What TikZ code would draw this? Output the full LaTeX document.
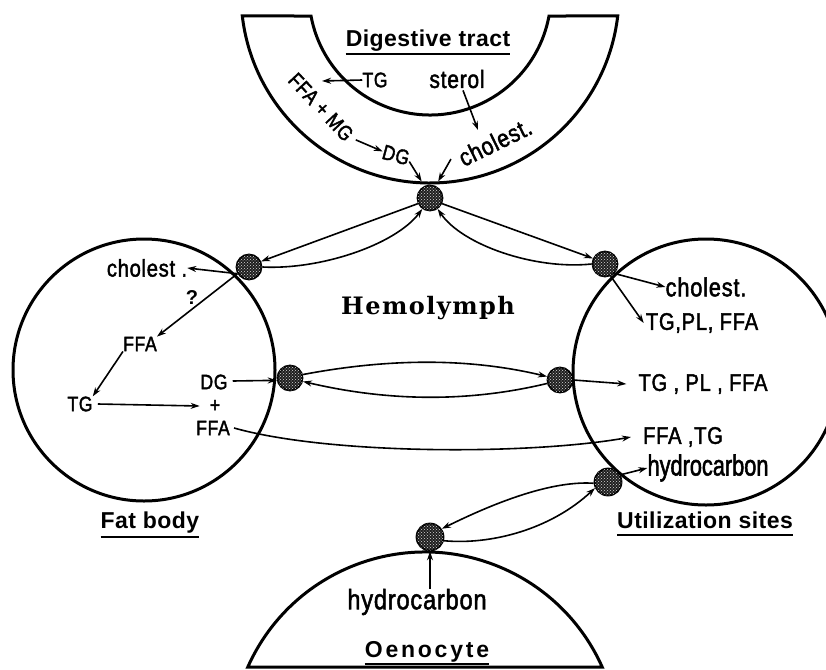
\documentclass[tikz,border=0pt]{standalone}
\usepackage{fontspec}
\usetikzlibrary{arrows.meta,patterns}
\newfontfamily\lbl{Liberation Sans}[FakeStretch=0.84,LetterSpace=3,FakeBold=1.8]
\newfontfamily\lblc{Liberation Sans}[FakeStretch=0.75,FakeBold=1.8]
\newfontfamily\blbl{Liberation Sans}[LetterSpace=2]
\newfontfamily\hemo{DejaVu Serif}[LetterSpace=6]
\begin{document}
\begin{tikzpicture}[x=1pt,y=1pt,
  outline/.style={line width=3pt},
  arr/.style={line width=1.6pt,-{Stealth[length=9pt,width=6pt]}},
  part/.style={circle,draw,line width=1.8pt,fill=black!88,minimum size=25pt,inner sep=0pt,
    postaction={pattern=crosshatch dots,pattern color=white!85!black}},
  t/.style={inner sep=0pt,font=\lbl\fontsize{21}{21}\selectfont},
  tl/.style={inner sep=0pt,font=\lbl\fontsize{24}{24}\selectfont},
  lab/.style={inner sep=0pt,anchor=base,font=\blbl\bfseries\fontsize{23}{23}\selectfont},
  uline/.style={line width=2.5pt}]
\useasboundingbox (0,0) rectangle (826,-669);
\clip (0,0) rectangle (826,-669);

% outlines
\draw[outline,shift={(430,6)}] (186.68:189) arc[start angle=186.68,end angle=353.32,radius=189]
   -- (-10.48:121) arc[start angle=-10.48,end angle=-169.52,radius=121] -- cycle;
\draw[outline] (144,-370) circle[radius=131];
\draw[outline] (706,-372) circle[radius=133];
\draw[outline] (425,-746) ++(156:194) arc[start angle=156,end angle=24,radius=194] -- cycle;

% particles
\node[part] (pt) at (430,-198) {};
\node[part] (pl) at (249,-267) {};
\node[part] (pr) at (605,-264) {};
\node[part] (ml) at (290,-378) {};
\node[part] (mr) at (560,-380) {};
\node[part,minimum size=27pt] (lr) at (608,-482) {};
\node[part,minimum size=27pt] (po) at (430,-537) {};

% digestive tract
\node[lab] (dtl) at (428,-47) {Digestive tract};
\draw[uline] ([yshift=-7pt]dtl.base west) -- ([yshift=-7pt]dtl.base east);
\node[t] (tg1) at (375,-80) {TG};
\node[t,font=\lbl\fontsize{25}{25}\selectfont] (sterol) at (457,-79) {sterol};
\node[t,rotate=-47] (ffamg) at (321,-107) {FFA + MG};
\node[t,rotate=-15] (dg1) at (396,-155) {DG};
\node[tl,font=\lbl\fontsize{25}{25}\selectfont,rotate=26] (chol1) at (495,-142) {cholest.};
\coordinate (ffatip) at (322,-81);
\coordinate (cholA) at (478,-130);
\draw[arr] (tg1.west) -- (ffatip);
\draw[arr] ([xshift=6pt,yshift=-2pt]ffamg.east) -- (dg1.west);
\draw[arr,shorten >=5pt] ([yshift=-3pt]dg1.east) -- (pt.115);
\draw[arr] ([xshift=6pt,yshift=-2pt]sterol.south) -- (cholA);
\draw[arr,shorten >=5pt] ([xshift=-9pt]chol1.west) -- (pt.65);

% hemolymph
\node[inner sep=0pt,font=\hemo\bfseries\fontsize{24}{24}\selectfont] (hemo) at (428,-308) {Hemolymph};

% top exchanges
\draw[arr] (pt.205) -- (pl.25);
\draw[arr] (pl.0) .. controls (320,-270) and (395,-245) .. (pt.235);
\draw[arr] (pt.335) -- (pr.155);
\draw[arr] (pr.180) .. controls (535,-270) and (462,-245) .. (pt.305);

% fat body
\node[tl] (fbchol) at (147,-268) {cholest .};
\node[inner sep=0pt,font=\blbl\bfseries\fontsize{20}{20}\selectfont] (q) at (192,-298) {?};
\node[t] (fbffa) at (140,-344) {FFA};
\node[t] (fbtg) at (80,-404) {TG};
\node[t] (fbdg) at (214,-382) {DG};
\node[t] (plus) at (215,-406) {+};
\node[t] (fbffa2) at (213,-428) {FFA};
\node[lab] (fbl) at (150,-528) {Fat body};
\draw[uline] ([yshift=-9pt]fbl.base west) -- ([yshift=-9pt]fbl.base east);
\draw[arr] (pl.210) -- (fbchol.east);
\draw[arr] (pl.210) -- (fbffa.north east);
\draw[arr] (fbffa.south west) -- (fbtg.north east);
\draw[arr] ([xshift=5pt]fbtg.east) -- ([xshift=-10pt]plus.west);
\draw[arr] ([xshift=5pt,yshift=1pt]fbdg.east) -- (ml.190);

% utilization sites
\node[tl,font=\lbl\fontsize{26}{26}\selectfont] (utchol) at (706,-287) {cholest.};
\node[tl] (tgpl1) at (702,-323) {TG,PL, FFA};
\node[tl] (tgpl2) at (703,-384) {TG , PL , FFA};
\node[tl] (ffatg) at (683,-437) {FFA ,TG};
\node[inner sep=0pt,font=\lblc\fontsize{29}{29}\selectfont] (hc1) at (708,-468) {hydrocarbon};
\node[lab] (utl) at (705,-528) {Utilization sites};
\draw[uline] ([yshift=-7pt]utl.base west) -- ([yshift=-7pt]utl.base east);
\draw[arr] (pr.315) -- (utchol.west);
\draw[arr] (pr.295) -- ([xshift=-2pt]tgpl1.west);
\draw[arr] (mr.east) -- ([xshift=-12pt]tgpl2.west);
\draw[arr] (lr.30) -- (hc1.west);

% long flow
\draw[arr] ([xshift=4pt]fbffa2.east) .. controls (330,-455) and (530,-455) .. ([xshift=-12pt]ffatg.west);

% middle exchanges
\draw[arr] (ml.15) .. controls (390,-358) and (470,-358) .. (mr.165);
\draw[arr] (mr.195) .. controls (470,-402) and (390,-402) .. (ml.345);

% oenocyte
\node[inner sep=0pt,font=\lbl\fontsize{28}{28}\selectfont] (hc2) at (417,-602) {hydrocarbon};
\node[lab,font=\blbl\bfseries\fontsize{23}{23}\selectfont\addfontfeature{LetterSpace=12}] (oel) at (427,-657) {Oenocyte};
\draw[uline] ([yshift=-7pt]oel.base west) -- ([yshift=-7pt]oel.base east);
\draw[arr] (hc2.north -| po) -- (po.south);
\draw[arr] (lr.185) .. controls (545,-480) and (480,-510) .. (po.35);
\draw[arr] (po.345) .. controls (490,-545) and (550,-530) .. (lr.205);
\end{tikzpicture}
\end{document}
